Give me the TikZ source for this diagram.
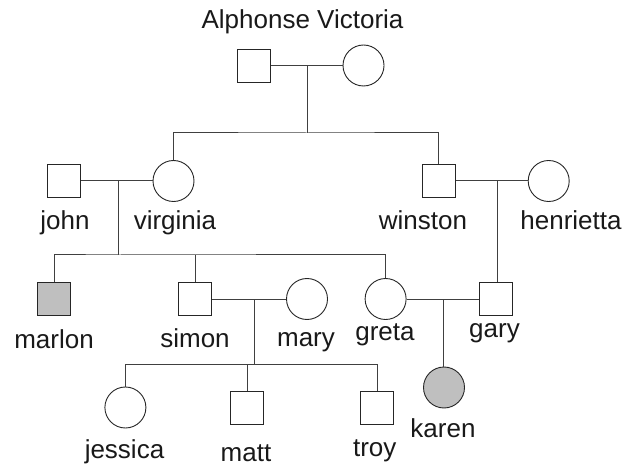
\documentclass[tikz,border=0pt]{standalone}
\usepackage{fontspec}
\setmainfont{Liberation Sans}
\usetikzlibrary{calc}

\begin{document}
\begin{tikzpicture}[x=1pt,y=-1pt,
        male/.style={rectangle,draw=black!85,line width=0.9pt,minimum size=33pt,inner sep=0pt},
        female/.style={circle,draw=black!85,line width=0.9pt,minimum size=41pt,inner sep=0pt},
        affected/.style={fill=black!25},
        link/.style={draw=black!75,line width=1pt},
        pname/.style={anchor=base,inner sep=0pt,text=black!90,font=\fontsize{26}{30}\selectfont}]
                \useasboundingbox (0,0) rectangle (624,465);
                % first generation
                \node[male] (alphonse) at (254,65.5) {};
                \node[female] (victoria) at (363.5,65.5) {};
                \node[pname] (tparents) at (302.5,29) {Alphonse Victoria};
                % second generation
                \node[male] (john) at (64,181) {};
                \node[female] (virginia) at (173.5,181) {};
                \node[male] (winston) at (438.7,181) {};
                \node[female] (henrietta) at (548.7,181) {};
                \node[pname] (tjohn) at (65,230) {john};
                \node[pname] (tvirginia) at (175,230) {virginia};
                \node[pname] (twinston) at (423,230) {winston};
                \node[pname] (thenrietta) at (571,230) {henrietta};
                % third generation
                \node[male,affected] (marlon) at (54.3,299) {};
                \node[male] (simon) at (195,299) {};
                \node[female] (mary) at (307,299) {};
                \node[female] (greta) at (385.6,299) {};
                \node[male] (gary) at (496,299) {};
                \node[pname] (tmarlon) at (54,348) {marlon};
                \node[pname] (tsimon) at (195,347) {simon};
                \node[pname] (tmary) at (306,346) {mary};
                \node[pname] (tgreta) at (385,340) {greta};
                \node[pname] (tgary) at (494.5,337) {gary};
                % fourth generation
                \node[female] (jessica) at (125.4,407.5) {};
                \node[male] (matt) at (247,408.3) {};
                \node[male] (troy) at (377,408.3) {};
                \node[female,affected] (karen) at (444,387.5) {};
                \node[pname] (tjessica) at (124.5,458) {jessica};
                \node[pname] (tmatt) at (246,461) {matt};
                \node[pname] (ttroy) at (374.7,456) {troy};
                \node[pname] (tkaren) at (443,437) {karen};
                % couples and their children
                \coordinate (m1) at (307,65.5);
                \coordinate (s1) at (307,133);
                \draw[link] (alphonse) -- (victoria);
                \draw[link] (m1) -- (s1);
                \draw[link] (virginia.north) |- (s1) -| (winston.north);
                \coordinate (m2) at (118.5,181);
                \coordinate (s2) at (118.5,255);
                \draw[link] (john) -- (virginia);
                \draw[link] (m2) -- (s2);
                \draw[link] (marlon.north) |- (s2) -| (greta.north);
                \draw[link] (simon.north) -- (simon |- s2);
                \coordinate (m3) at (497.4,181);
                \draw[link] (winston) -- (henrietta);
                \draw[link] (m3) -- (m3 |- gary.north);
                \coordinate (m4) at (254,299);
                \coordinate (s3) at (254,364.3);
                \draw[link] (simon) -- (mary);
                \draw[link] (m4) -- (s3);
                \draw[link] (jessica |- s3) -- (troy |- s3);
                \foreach \kid in {jessica,matt,troy}
                    \draw[link] (\kid.north) -- (\kid |- s3);
                \coordinate (m5) at (443.7,299);
                \draw[link] (greta) -- (gary);
                \draw[link] (m5) -- (m5 |- karen.north);
            \end{tikzpicture}
\end{document}
